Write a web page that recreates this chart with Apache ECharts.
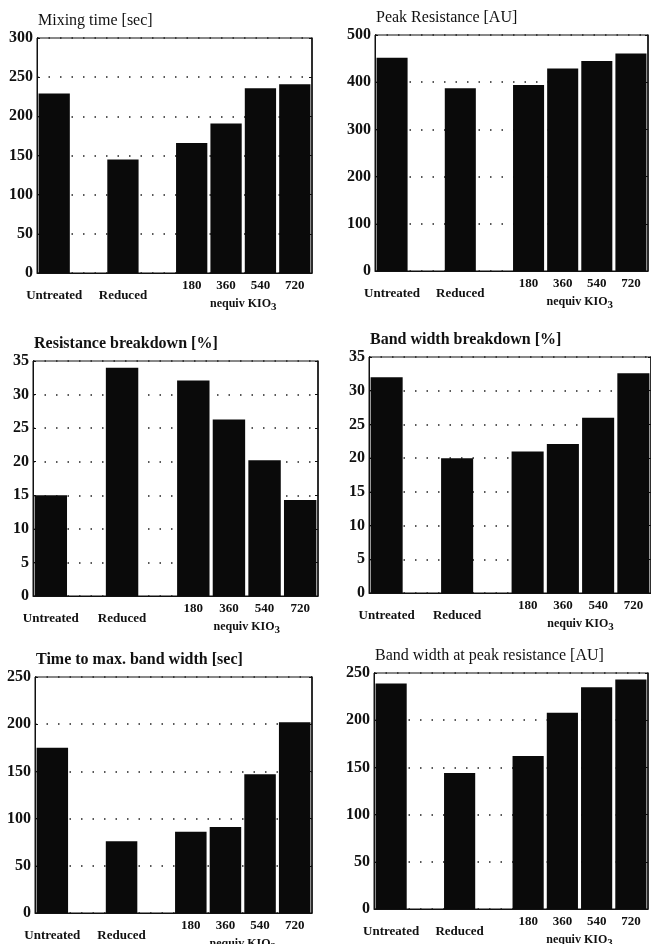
<!DOCTYPE html>
<html>
<head>
<meta charset="utf-8">
<script src="https://cdn.jsdelivr.net/npm/echarts@6/dist/echarts.min.js"></script>
<style>
	html, body { margin: 0; padding: 0; background: #fff; }
	#chart { width: 651px; height: 944px; }
</style>
</head>
<body>
<div id="chart"></div>
<script type="text/javascript">
    // categories of every panel, and the 8 slots of the x axis (two empty ones)
    var categories = ['Untreated', 'Reduced', '180', '360', '540', '720'];
    var axisSlots = ['Untreated', ' ', 'Reduced', '  ', '180', '360', '540', '720'];

    // values, in the order of categories
    var mixingTime = [229, 145, 166, 191, 236, 241];
    var peakResistance = [452, 387, 394, 429, 445, 461];
    var resistanceBreakdown = [15.0, 34.0, 32.1, 26.3, 20.2, 14.3];
    var bandWidthBreakdown = [32.0, 20.0, 21.0, 22.1, 26.0, 32.6];
    var timeToMaxBandWidth = [175, 76, 86, 91, 147, 202];
    var bandWidthAtPeak = [239, 144, 162, 208, 235, 243];

    var titles = ['Mixing time [sec]', 'Peak Resistance [AU]', 'Resistance breakdown [%]',
        'Band width breakdown [%]', 'Time to max. band width [sec]', 'Band width at peak resistance [AU]'];
    var titleBold = [false, false, true, true, true, false];
    var yMax = [300, 500, 35, 35, 250, 250];
    var yStep = [50, 100, 5, 5, 50, 50];
    var values = [mixingTime, peakResistance, resistanceBreakdown, bandWidthBreakdown, timeToMaxBandWidth, bandWidthAtPeak];

    // panel boxes
    var boxes = [
        {left: 37, top: 38, width: 275, height: 235},
        {left: 375, top: 35, width: 273, height: 236},
        {left: 33, top: 361, width: 285, height: 235},
        {left: 369, top: 357, width: 282, height: 236},
        {left: 35, top: 677, width: 277, height: 236},
        {left: 374, top: 673, width: 274, height: 236}
    ];

    var serif = '"Liberation Serif", "DejaVu Serif", serif';
    var grid = [], xAxis = [], yAxis = [], series = [], graphic = [];

    boxes.forEach(function (b, i) {
        grid.push({
            left: b.left, top: b.top, width: b.width, height: b.height,
            show: true, borderColor: '#111', borderWidth: 1, backgroundColor: '#fff'
        });
        xAxis.push({
            type: 'category', gridIndex: i, data: axisSlots, boundaryGap: true,
            axisLine: {lineStyle: {color: '#111', width: 1}},
            axisTick: {show: false},
            axisLabel: {
                interval: 0, margin: 6, color: '#111',
                fontFamily: serif, fontWeight: 'bold', fontSize: 13,
                formatter: function (v) {
                    if (v === 'Untreated' || v === 'Reduced') return '{w|' + v + '}';
                    return '{n|' + v + '}';
                },
                rich: {
                    w: {fontFamily: serif, fontWeight: 'bold', fontSize: 13, padding: [10, 0, 0, 0]},
                    n: {fontFamily: serif, fontWeight: 'bold', fontSize: 13}
                }
            }
        });
        yAxis.push({
            type: 'value', gridIndex: i, min: 0, max: yMax[i], interval: yStep[i],
            axisLine: {show: true, lineStyle: {color: '#111', width: 1}},
            axisTick: {show: true, inside: true, length: 3, lineStyle: {color: '#111'}},
            axisLabel: {margin: 4, color: '#111', fontFamily: serif, fontWeight: 'bold', fontSize: 16},
            splitLine: {show: true, lineStyle: {color: '#222', width: 1.5, type: [1.5, 10]}}
        });
        yAxis.push({
            type: 'value', gridIndex: i, position: 'right', min: 0, max: yMax[i], interval: yStep[i],
            axisLine: {show: true, lineStyle: {color: '#111', width: 1.5}},
            axisTick: {show: true, inside: true, length: 3, lineStyle: {color: '#111'}},
            axisLabel: {show: false},
            splitLine: {show: false}
        });
        var data = axisSlots.map(function (s) {
            var k = categories.indexOf(s);
            return k < 0 ? '-' : values[i][k];
        });
        series.push({
            type: 'bar', xAxisIndex: i, yAxisIndex: 2 * i, data: data,
            barCategoryGap: '9%', itemStyle: {color: '#0a0a0a'}, silent: true
        });
        graphic.push({
            type: 'text', x: b.left + 1, y: b.top - 17,
            style: {
                text: titles[i], fill: '#111', textVerticalAlign: 'middle',
                font: (titleBold[i] ? 'bold ' : '') + '16px ' + serif
            }
        });
        graphic.push({
            type: 'text', x: b.left + b.width * 6 / 8, y: b.top + b.height + 31,
            style: {
                text: '{a|nequiv KIO}{s|3}', fill: '#111', textAlign: 'center', textVerticalAlign: 'middle',
                rich: {
                    a: {fontFamily: serif, fontWeight: 'bold', fontSize: 12, fill: '#111'},
                    s: {fontFamily: serif, fontWeight: 'bold', fontSize: 11, fill: '#111', padding: [7, 0, 0, 0]}
                }
            }
        });
    });

    var myChart = echarts.init(document.getElementById('chart'), null, {renderer: 'canvas'});
    myChart.setOption({
        backgroundColor: '#fff',
        animation: false,
        grid: grid,
        xAxis: xAxis,
        yAxis: yAxis,
        series: series,
        graphic: graphic
    });
</script>
</body>
</html>
